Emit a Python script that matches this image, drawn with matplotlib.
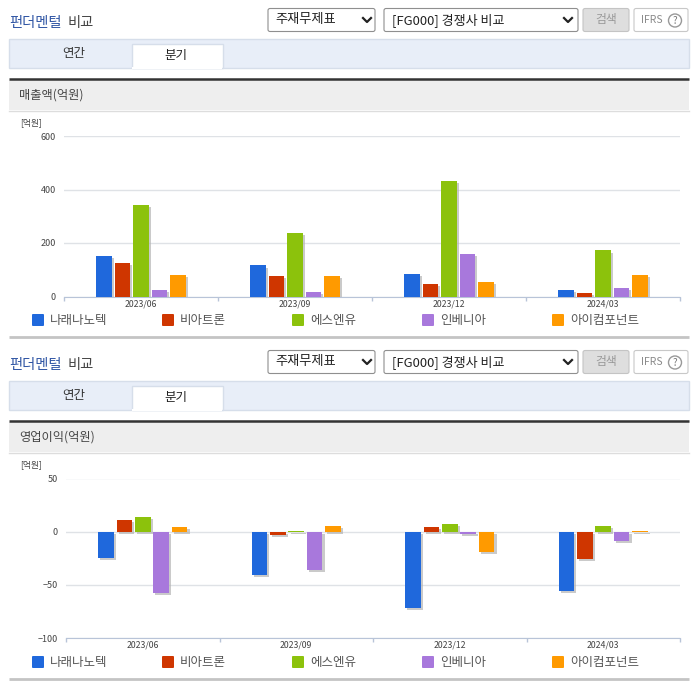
import numpy as np
import matplotlib
matplotlib.use("Agg")
import matplotlib.pyplot as plt
import matplotlib.patheffects as pe
from matplotlib.patches import Rectangle, FancyBboxPatch, Circle

plt.rcParams['font.family'] = ['Noto Sans CJK KR', 'DejaVu Sans']

# 데이터
quarters = ["2023/06", "2023/09", "2023/12", "2024/03"]
companies = ["나래나노텍", "비아트론", "에스엔유", "인베니아", "아이컴포넌트"]
colors = ["#1f68dc", "#cf3600", "#8cc20c", "#a878dc", "#ff9a00"]

sales = [
    [153, 116, 85, 26],
    [127, 78, 47, 13],
    [343, 236, 432, 172],
    [26, 18, 160, 33],
    [79, 78, 55, 82],
]
profit = [
    [-25, -41, -72, -56],
    [11, -3, 4, -26],
    [14, 1, 7, 5],
    [-58, -36, -2, -9],
    [4, 5, -19, 1],
]
sales_ticks = [0, 200, 400, 600]
profit_ticks = [-100, -50, 0, 50]

W, H = 696, 684
fig = plt.figure(figsize=(W / 100, H / 100), dpi=100)
bg = fig.add_axes([0, 0, 1, 1])
bg.set_xlim(0, W)
bg.set_ylim(H, 0)
bg.axis("off")


def rbox(x0, y0, x1, y1, fc, ec):
    bg.add_patch(FancyBboxPatch((x0 + 2, y0 + 2), x1 - x0 - 4, y1 - y0 - 4,
                                boxstyle="round,pad=2", fc=fc, ec=ec, lw=0.8))


def chevron(x, y):
    bg.plot([x - 4, x, x + 4], [y - 2, y + 2, y - 2], color="#222222", lw=1.6)


def draw_panel(dy, metric):
    # 상단 제목과 검색 영역
    bg.text(9, 22.5 + dy, "펀더멘털", color="#2f55a4", fontsize=10.3, fontweight="medium", va="center")
    bg.text(68, 22.5 + dy, "비교", color="#444444", fontsize=10.3, fontweight="medium", va="center")
    rbox(268, 8.5 + dy, 375, 31.5 + dy, "white", "#8f8f8f")
    bg.text(275, 20 + dy, "주재무제표", color="#222222", fontsize=9.5, va="center")
    chevron(367, 20 + dy)
    rbox(384, 8.5 + dy, 578, 31.5 + dy, "white", "#8f8f8f")
    bg.text(392, 20 + dy, "[FG000] 경쟁사 비교", color="#222222", fontsize=9.4, va="center")
    chevron(568, 20 + dy)
    rbox(583, 8.5 + dy, 629, 31.5 + dy, "#dedede", "#c4c4c4")
    bg.text(606, 20 + dy, "검색", color="#999999", fontsize=8.5, ha="center", va="center")
    rbox(634, 8.5 + dy, 688, 31.5 + dy, "white", "#c8c8c8")
    bg.text(641, 20 + dy, "IFRS", color="#8a8a8a", fontsize=7.5, va="center")
    bg.add_patch(Circle((675, 20.5 + dy), 6.5, fc="white", ec="#999999", lw=1))
    bg.text(675, 20.5 + dy, "?", color="#777777", fontsize=7, ha="center", va="center")

    # 탭
    bg.add_patch(Rectangle((9, 38.5 + dy), 680, 29, fc="#e8eef8", ec="#d6deea", lw=1))
    bg.add_patch(Rectangle((131.5, 43.5 + dy), 91, 24.5, fc="white", ec="#d6deea", lw=1))
    bg.add_patch(Rectangle((132, 66.5 + dy), 90, 2, fc="white", ec="none"))
    bg.text(74, 54 + dy, "연간", color="#333333", fontsize=9, ha="center", va="center")
    bg.text(176, 55 + dy, "분기", color="#222222", fontsize=9, ha="center", va="center")

    # 지표 헤더
    bg.add_patch(Rectangle((9, 80 + dy), 680, 30, fc="#eeeeee", ec="none"))
    bg.plot([9, 689], [79 + dy, 79 + dy], color="#333333", lw=1.8, solid_capstyle="butt")
    bg.plot([9, 689], [110.5 + dy, 110.5 + dy], color="#dddddd", lw=1)
    bg.text(19, 95.5 + dy, metric, color="#444444", fontsize=8.8, va="center")
    bg.text(20, 122.5 + dy, "[억원]", color="#444444", fontsize=6.3, va="center")

    # 범례
    for x, name, c in zip([32, 162, 292, 422, 552], companies, colors):
        bg.add_patch(FancyBboxPatch((x + 1, 315 + dy), 10, 10, boxstyle="round,pad=1", fc=c, ec="none"))
        bg.text(x + 18, 320.5 + dy, name, color="#555555", fontsize=9, va="center")
    bg.plot([9, 689], [337 + dy, 337 + dy], color="#c4c4c4", lw=2, solid_capstyle="butt")


def draw_chart(rect, values, ticks):
    x0, top, x1, bottom = rect
    ax = fig.add_axes([x0 / W, 1 - bottom / H, (x1 - x0) / W, (bottom - top) / H])
    ax.patch.set_alpha(0)
    pos = np.arange(len(quarters))
    for i, vals in enumerate(values):
        ax.bar(pos + (i - 2) * 0.12, vals, 0.102, color=colors[i], zorder=3,
               path_effects=[pe.SimplePatchShadow(offset=(1.5, -1.5), shadow_rgbFace="#b4b4b4", alpha=0.7), pe.Normal()])
    ax.set_xlim(-0.5, 3.5)
    ax.set_ylim(ticks[0], ticks[-1])
    ax.set_yticks(ticks)
    ax.grid(axis="y", color="#dfe2e6", lw=1, zorder=1)
    ax.set_xticks(np.arange(-0.5, 4, 1), minor=False)
    ax.set_xticklabels([])
    ax.set_xticks(pos, minor=True)
    ax.set_xticklabels(quarters, minor=True, fontsize=6.3, color="#444444")
    ax.tick_params(axis="x", which="major", length=3, color="#b8c4d8", width=1, direction="out")
    ax.tick_params(axis="x", which="minor", length=0, pad=2)
    ax.tick_params(axis="y", length=0, labelsize=6.5, labelcolor="#444444", pad=6)
    for s in ["top", "left", "right"]:
        ax.spines[s].set_visible(False)
    ax.spines["bottom"].set_color("#b8c4d8")
    return ax


draw_panel(0, "매출액(억원)")
draw_panel(342, "영업이익(억원)")
draw_chart((64, 136, 680, 296.5), sales, sales_ticks)
draw_chart((66, 478.5, 680, 638), profit, profit_ticks)

fig.savefig("out.png", dpi=100)
